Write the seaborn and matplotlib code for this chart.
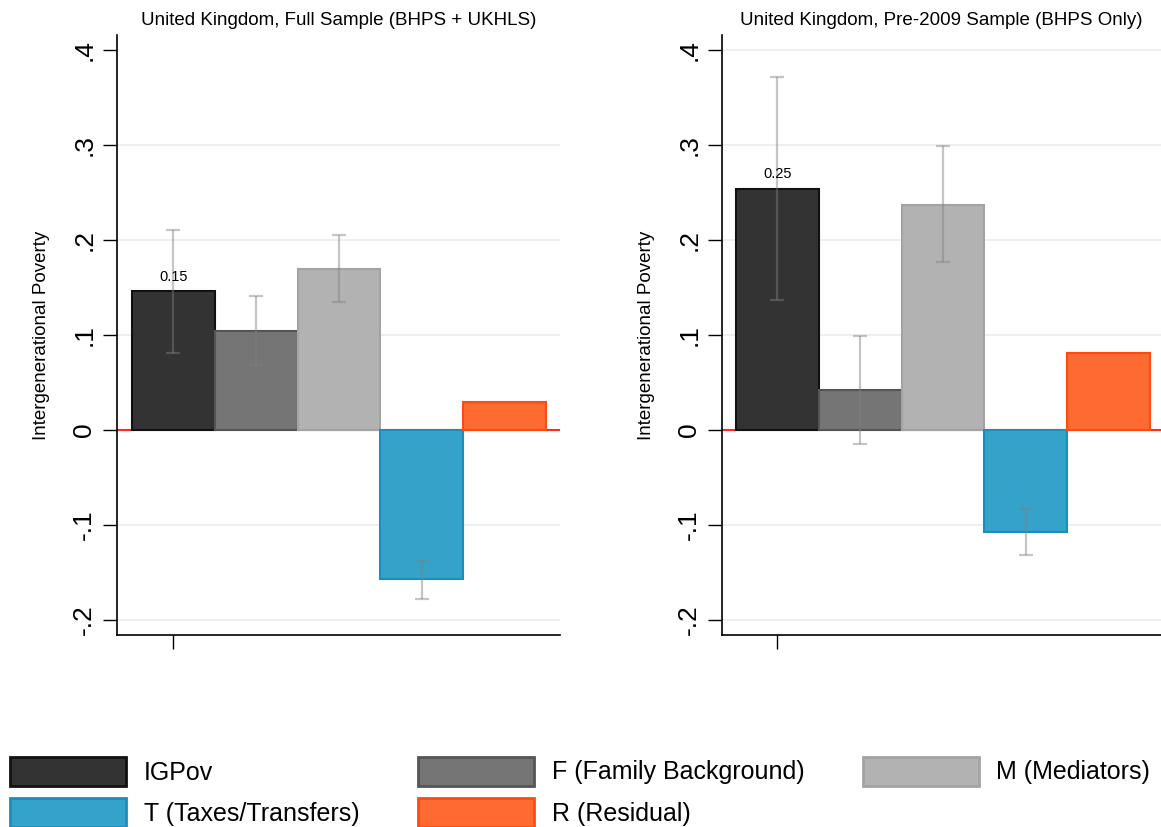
import numpy as np
import pandas as pd
import matplotlib
matplotlib.use('Agg')
import matplotlib.pyplot as plt
import seaborn as sns
from matplotlib.patches import Patch

sns.set_style('white')
plt.rcParams['font.family'] = ['Liberation Sans', 'DejaVu Sans']
plt.rcParams['text.color'] = 'black'
plt.rcParams['axes.labelcolor'] = 'black'
plt.rcParams['xtick.color'] = 'black'
plt.rcParams['ytick.color'] = 'black'

# data
components = ['IGPov', 'F (Family Background)', 'M (Mediators)', 'T (Taxes/Transfers)', 'R (Residual)']
titles = ['United Kingdom, Full Sample (BHPS + UKHLS)', 'United Kingdom, Pre-2009 Sample (BHPS Only)']
full_vals = [0.146, 0.104, 0.169, -0.157, 0.029]
full_lo = [0.081, 0.068, 0.135, -0.178, np.nan]
full_hi = [0.211, 0.141, 0.205, -0.138, np.nan]
pre_vals = [0.254, 0.042, 0.237, -0.107, 0.081]
pre_lo = [0.137, -0.015, 0.177, -0.132, np.nan]
pre_hi = [0.372, 0.099, 0.299, -0.083, np.nan]
ytick_vals = [-0.2, -0.1, 0, 0.1, 0.2, 0.3, 0.4]
ytick_labels = ['-.2', '-.1', '0', '.1', '.2', '.3', '.4']

fill_colors = ['#333333', '#757575', '#b2b2b2', '#35a2c9', '#ff6a33']
edge_colors = ['#111111', '#555555', '#a3a3a3', '#1a8fbf', '#ff4c0d']
palette = dict(zip(components, fill_colors))

panels = [
    (full_vals, full_lo, full_hi, [0.3, 0.2, 0.1, -0.1, -0.2]),
    (pre_vals, pre_lo, pre_hi, [0.4, 0.3, 0.2, 0.1, -0.1, -0.2]),
]

fig = plt.figure(figsize=(11.61, 8.27), dpi=100)
ax_rects = [[117 / 1161, 1 - 635 / 827, 443 / 1161, 600 / 827],
            [722 / 1161, 1 - 635 / 827, 439 / 1161, 600 / 827]]
xlims = [(-0.5 - 15 / 83, 4.5 + 14 / 83), (-0.5 - 14 / 83, 4.5 + 11 / 83)]

for i, (vals, lo, hi, grids) in enumerate(panels):
    ax = fig.add_axes(ax_rects[i])
    df = pd.DataFrame({'component': components, 'value': vals})
    sns.barplot(data=df, x='component', y='value', hue='component', palette=palette,
                order=components, hue_order=components, width=1.0, dodge=False,
                saturation=1, legend=False, ax=ax, zorder=2)
    for p, ec in zip(ax.patches, edge_colors):
        p.set_edgecolor(ec)
        p.set_linewidth(1.5)

    for g in grids:
        ax.axhline(g, color='#e8eff2', lw=1.3, zorder=0)
    ax.axhline(0, color='#ff2a1a', lw=1.5, zorder=1)

    x = np.arange(len(components))
    lo_a, hi_a, v_a = np.array(lo), np.array(hi), np.array(vals)
    ok = ~np.isnan(lo_a)
    ax.errorbar(x[ok], v_a[ok], yerr=[v_a[ok] - lo_a[ok], hi_a[ok] - v_a[ok]],
                fmt='none', ecolor='#808080', alpha=0.45, elinewidth=1.6,
                capsize=5, capthick=1.6, zorder=3)

    ax.text(0, vals[0] + 0.008, f'{vals[0]:.2f}', ha='center', va='bottom', fontsize=10.5)

    ax.set_xlim(*xlims[i])
    ax.set_ylim(-0.2 - 15 / 950, 0.4 + 15 / 950)
    ax.set_yticks(ytick_vals)
    ax.set_yticklabels(ytick_labels, rotation=90, va='center', fontsize=19)
    ax.set_xticks([0])
    ax.set_xticklabels([''])
    ax.tick_params(axis='both', direction='out', length=10, width=1, left=True, bottom=True)
    ax.tick_params(axis='y', pad=5)
    ax.set_xlabel('')
    ax.set_ylabel('Intergenerational Poverty', fontsize=13.5)
    ax.yaxis.set_label_coords(-0.152 if i == 0 else -0.153, 0.5)
    ax.set_title(titles[i], fontsize=13.5, pad=7)
    sns.despine(ax=ax)
    for s in ['left', 'bottom']:
        ax.spines[s].set_color('black')
        ax.spines[s].set_linewidth(1.2)

# legend in row order IGPov, F, M / T, R
handles = [Patch(facecolor=fc, edgecolor=ec, linewidth=2, label=c)
           for c, fc, ec in zip(components, fill_colors, edge_colors)]
order = [0, 3, 1, 4, 2]
fig.legend([handles[k] for k in order], [components[k] for k in order],
           ncol=3, loc='lower left', bbox_to_anchor=(10 / 1161, 0.0), frameon=False,
           fontsize=18, handlelength=4.65, handleheight=1.4, handletextpad=0.7,
           columnspacing=2.34, labelspacing=0.5, borderpad=0.0, borderaxespad=0.0)

fig.savefig('out.png', dpi=100)
